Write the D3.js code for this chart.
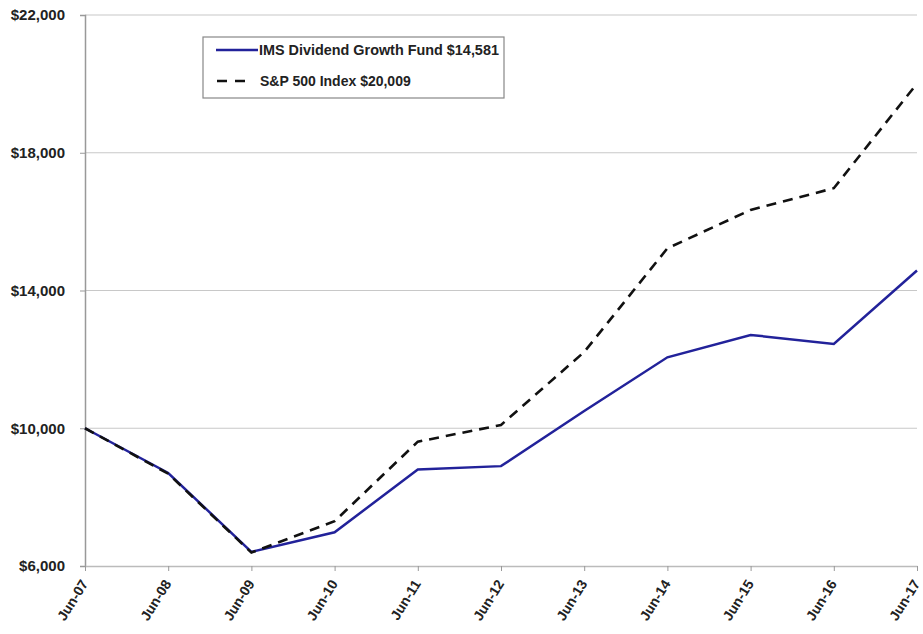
<!DOCTYPE html>
<html>
<head>
<meta charset="utf-8">
<script src="https://cdn.jsdelivr.net/npm/d3@7/dist/d3.min.js"></script>
<style>
  body { margin: 0; background: #fff; }
  text { font-family: Arial, "Liberation Sans", sans-serif; font-weight: bold; fill: #222; }
</style>
</head>
<body>
<svg id="chart" width="923" height="634"></svg>
<script>
// data
var periods = ['Jun-07', 'Jun-08', 'Jun-09', 'Jun-10', 'Jun-11', 'Jun-12', 'Jun-13', 'Jun-14', 'Jun-15', 'Jun-16', 'Jun-17'];
var fundValues = [10000, 8700, 6410, 6980, 8800, 8900, 10500, 12060, 12710, 12450, 14581];
var indexValues = [10000, 8680, 6390, 7300, 9610, 10095, 12215, 15225, 16340, 16970, 20009];
var yTicks = [6000, 10000, 14000, 18000, 22000];
var seriesNames = ['IMS Dividend Growth Fund $14,581', 'S&P 500 Index $20,009'];

var svg = d3.select('#chart');
var margin = { left: 85, right: 6, top: 15, bottom: 68 };
var width = +svg.attr('width');
var height = +svg.attr('height');

var x = d3.scalePoint().domain(periods).range([margin.left, width - margin.right]);
var y = d3.scaleLinear().domain([6000, 22000]).range([height - margin.bottom, margin.top]);

/* gridlines */
svg.append('g').selectAll('line.grid').data(yTicks.slice(1)).join('line')
  .attr('class', 'grid')
  .attr('x1', margin.left).attr('x2', width - margin.right)
  .attr('y1', d => y(d)).attr('y2', d => y(d))
  .style('stroke', '#c8c8c8').style('stroke-width', 1.2);

/* y axis */
var yAxis = svg.append('g').attr('transform', 'translate(' + margin.left + ',0)')
  .call(d3.axisLeft(y).tickValues(yTicks).tickSize(5).tickPadding(15).tickFormat(d => '$' + d3.format(',')(d)));
yAxis.select('.domain').style('stroke', '#999').style('stroke-width', 1.5);
yAxis.selectAll('.tick line').style('stroke', '#999');
yAxis.selectAll('text').style('font-size', '15px').style('fill', '#222');

/* x axis */
var xAxis = svg.append('g').attr('transform', 'translate(0,' + y(6000) + ')')
  .call(d3.axisBottom(x).tickSize(5).tickSizeOuter(0));
xAxis.select('.domain').style('stroke', '#bbb').style('stroke-width', 1.5);
xAxis.selectAll('.tick line').style('stroke', '#999');
xAxis.selectAll('text')
  .style('font-size', '14px').style('fill', '#222')
  .attr('text-anchor', 'end')
  .attr('dy', '0.35em')
  .attr('transform', 'translate(-1,15) rotate(-58)')
  .attr('x', 0).attr('y', 0);

/* lines */
var line = d3.line().x((d, i) => x(periods[i])).y(d => y(d));

svg.append('path').datum(fundValues)
  .attr('d', line)
  .style('fill', 'none').style('stroke', '#22229a').style('stroke-width', 2.5);

svg.append('path').datum(indexValues)
  .attr('d', line)
  .style('fill', 'none').style('stroke', '#111').style('stroke-width', 2.6)
  .style('stroke-dasharray', '10,7');

/* legend */
var legend = svg.append('g').attr('transform', 'translate(203,37)');
legend.append('rect')
  .attr('width', 301).attr('height', 61)
  .style('fill', '#fff').style('stroke', '#888').style('stroke-width', 1.2);
legend.append('line').attr('x1', 13).attr('x2', 55).attr('y1', 13).attr('y2', 13)
  .style('stroke', '#22229a').style('stroke-width', 2.5);
legend.append('line').attr('x1', 14).attr('x2', 46).attr('y1', 44).attr('y2', 44)
  .style('stroke', '#111').style('stroke-width', 2.6).style('stroke-dasharray', '10,8');
legend.append('text').attr('x', 56).attr('y', 13).attr('dy', '0.35em')
  .style('font-size', '14.4px').text(seriesNames[0]);
legend.append('text').attr('x', 57).attr('y', 44).attr('dy', '0.35em')
  .style('font-size', '14px').text(seriesNames[1]);
</script>
</body>
</html>
